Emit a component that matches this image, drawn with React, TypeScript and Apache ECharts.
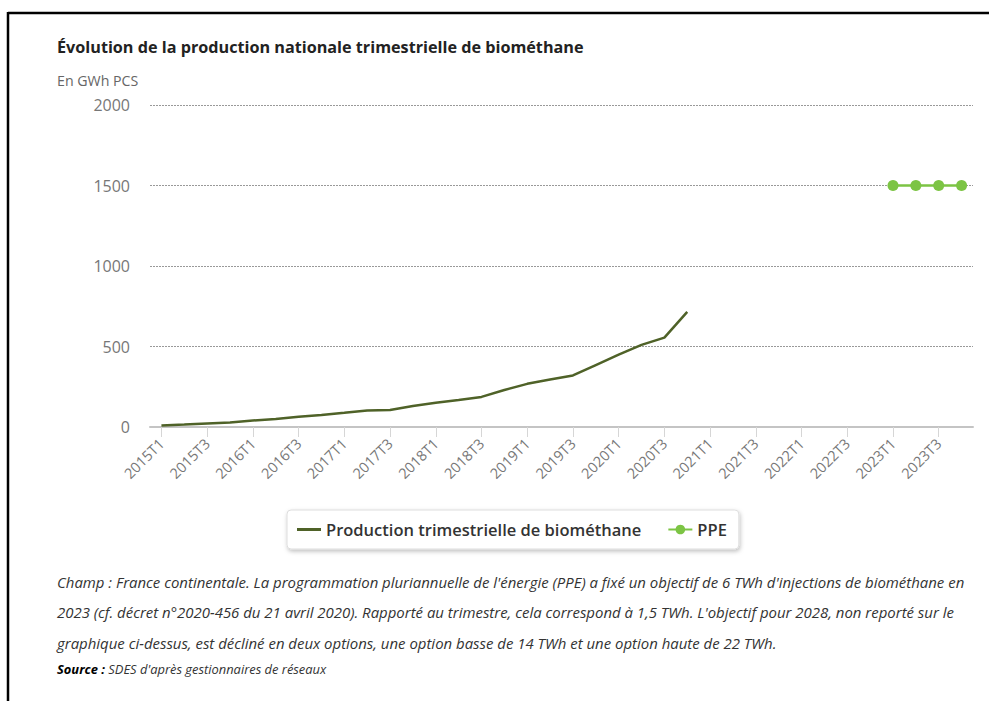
import React, { useEffect, useRef } from "react";
import * as echarts from "echarts";

const categories = [
  "2015T1", "2015T2", "2015T3", "2015T4",
  "2016T1", "2016T2", "2016T3", "2016T4",
  "2017T1", "2017T2", "2017T3", "2017T4",
  "2018T1", "2018T2", "2018T3", "2018T4",
  "2019T1", "2019T2", "2019T3", "2019T4",
  "2020T1", "2020T2", "2020T3", "2020T4",
  "2021T1", "2021T2", "2021T3", "2021T4",
  "2022T1", "2022T2", "2022T3", "2022T4",
  "2023T1", "2023T2", "2023T3", "2023T4",
];

// Production trimestrielle de biométhane (GWh PCS), 2015T1 .. 2020T4
const production = [
  10, 15, 22, 28,
  40, 50, 63, 75,
  88, 102, 105, 130,
  150, 168, 187, 230,
  268, 295, 320, 385,
  450, 510, 555, 715,
];

// Objectif PPE par trimestre
const ppeQuarters = ["2023T1", "2023T2", "2023T3", "2023T4"];
const ppeValues = [1500, 1500, 1500, 1500];

const yMin = 0;
const yMax = 2000;
const yStep = 500;

const seriesNames = ["Production trimestrielle de biométhane", "PPE"];

const titleText = "Évolution de la production nationale trimestrielle de biométhane";
const unitText = "En GWh PCS";
const noteLines = [
  "Champ : France continentale. La programmation pluriannuelle de l'énergie (PPE) a fixé un objectif de 6 TWh d'injections de biométhane en",
  "2023 (cf. décret n°2020-456 du 21 avril 2020). Rapporté au trimestre, cela correspond à 1,5 TWh. L'objectif pour 2028, non reporté sur le",
  "graphique ci-dessus, est décliné en deux options, une option basse de 14 TWh et une option haute de 22 TWh.",
];
const sourceLabel = "Source :";
const sourceText = " SDES d'après gestionnaires de réseaux";

const FONT = "'Open Sans', 'DejaVu Sans', sans-serif";
const PROD_COLOR = "#4f6228";
const PPE_COLOR = "#7cc444";

export default function App() {
  const ref = useRef<HTMLDivElement>(null);

  useEffect(() => {
    if (!ref.current) return;
    const chart = echarts.init(ref.current, undefined, { renderer: "svg" });
    const noteYs = [582, 612, 643];
    chart.setOption({
      animation: false,
      backgroundColor: "#ffffff",
      textStyle: { fontFamily: FONT },
      grid: { left: 150, right: 16, top: 105, bottom: 274 },
      xAxis: {
        type: "category",
        data: categories,
        boundaryGap: true,
        axisLine: { show: true, lineStyle: { color: "#c4c4c4", width: 2 } },
        axisTick: {
          show: true,
          interval: 1,
          alignWithLabel: true,
          length: 10,
          lineStyle: { color: "#d6d6d6" },
        },
        axisLabel: {
          interval: 1,
          rotate: 45,
          color: "#777",
          fontSize: 14.5,
          fontFamily: FONT,
          margin: 14,
        },
      },
      yAxis: {
        type: "value",
        min: yMin,
        max: yMax,
        interval: yStep,
        axisLine: { show: false },
        axisTick: { show: false },
        axisLabel: {
          color: "#777",
          fontSize: 16,
          fontFamily: FONT,
          margin: 20,
          formatter: (v: number) => String(v),
        },
        splitLine: { show: true, lineStyle: { color: "#999", type: [2, 1], width: 1 } },
      },
      legend: {
        left: 287,
        top: 510,
        data: [
          { name: seriesNames[0], icon: "path://M0,0 L24,0 L24,3 L0,3 Z" },
          { name: seriesNames[1] },
        ],
        itemWidth: 24,
        itemHeight: 12,
        itemGap: 26,
        padding: [11, 12, 11, 10],
        backgroundColor: "#fff",
        borderColor: "#ddd",
        borderWidth: 1,
        borderRadius: 4,
        shadowBlur: 4,
        shadowColor: "rgba(0,0,0,0.25)",
        shadowOffsetX: 1,
        shadowOffsetY: 2,
        textStyle: { color: "#333", fontSize: 16.5, fontWeight: 600, fontFamily: FONT },
      },
      series: [
        {
          name: seriesNames[0],
          type: "line",
          data: production,
          symbol: "none",
          color: PROD_COLOR,
          lineStyle: { color: PROD_COLOR, width: 2.5 },
        },
        {
          name: seriesNames[1],
          type: "line",
          data: ppeQuarters.map((q, i) => [q, ppeValues[i]]),
          symbol: "circle",
          symbolSize: 11,
          color: PPE_COLOR,
          lineStyle: { color: PPE_COLOR, width: 2.5 },
        },
      ],
      graphic: [
        {
          type: "line",
          shape: { x1: 8, y1: 13, x2: 989, y2: 13 },
          style: { stroke: "#000", lineWidth: 2.5 },
        },
        {
          type: "line",
          shape: { x1: 8, y1: 12, x2: 8, y2: 701 },
          style: { stroke: "#000", lineWidth: 2.5 },
        },
        {
          type: "text",
          x: 57,
          y: 47,
          style: {
            text: titleText,
            fontSize: 16.2,
            fontWeight: "bold",
            fontFamily: FONT,
            fill: "#222",
            verticalAlign: "middle",
          },
        },
        {
          type: "text",
          x: 57,
          y: 80,
          style: {
            text: unitText,
            fontSize: 14.2,
            fontFamily: FONT,
            fill: "#666",
            verticalAlign: "middle",
          },
        },
        ...noteLines.map((t, i) => ({
          type: "text",
          x: 57,
          y: noteYs[i],
          style: {
            text: t,
            fontSize: 14.95,
            fontStyle: "italic",
            fontFamily: FONT,
            fill: "#333",
            verticalAlign: "middle",
          },
        })),
        {
          type: "text",
          x: 57,
          y: 669,
          style: {
            text: "{b|" + sourceLabel + "}{n|" + sourceText + "}",
            verticalAlign: "middle",
            rich: {
              b: { fontSize: 12.9, fontWeight: "bold", fontStyle: "italic", fontFamily: FONT, fill: "#000", color: "#000" },
              n: { fontSize: 12.9, fontStyle: "italic", fontFamily: FONT, fill: "#333", color: "#333" },
            },
          },
        },
      ],
    });
    return () => chart.dispose();
  }, []);

  return (
    <div
      ref={ref}
      style={{ position: "absolute", left: 0, top: 0, width: 989, height: 701 }}
    />
  );
}
